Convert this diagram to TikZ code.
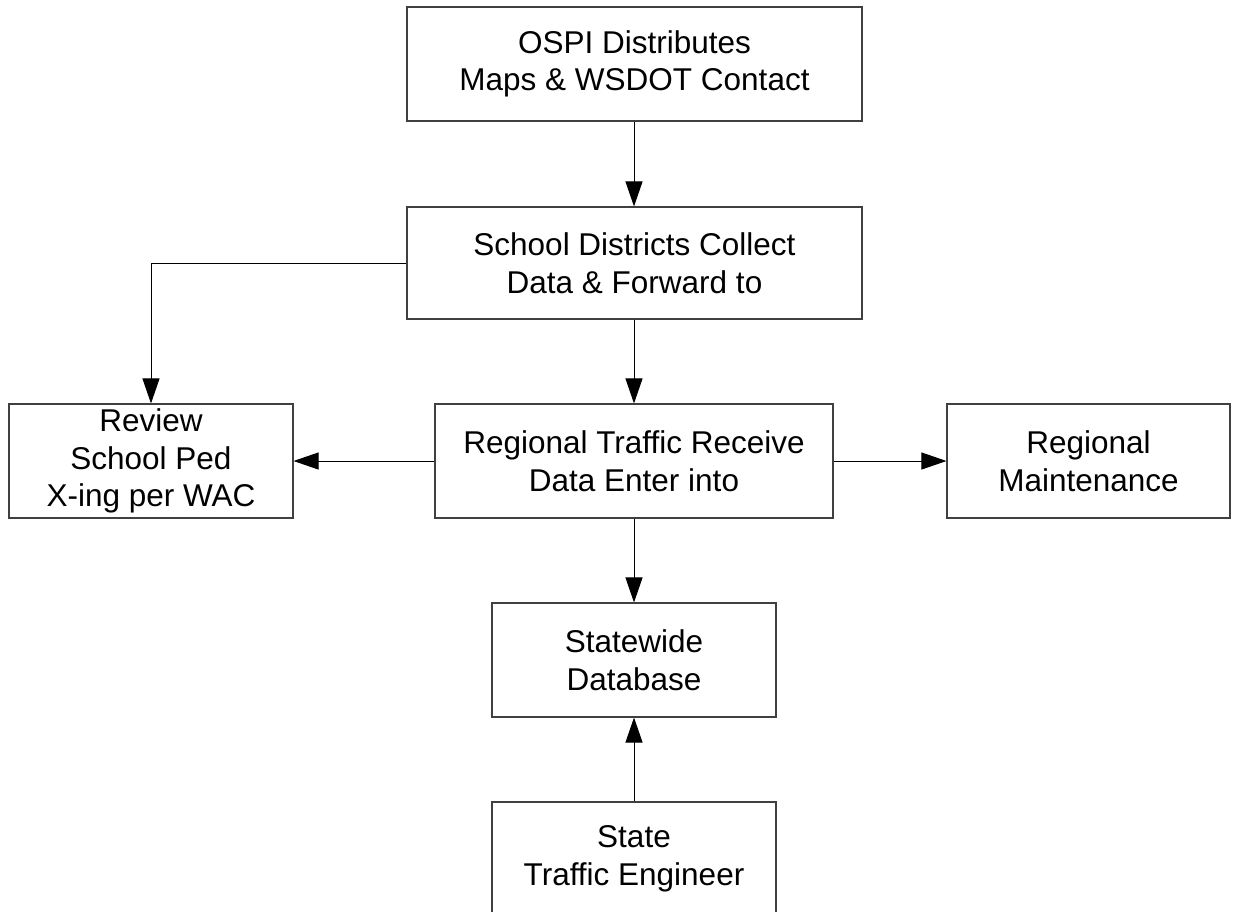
\documentclass[tikz,border=0pt]{standalone}
\usepackage{fontspec}
\setmainfont{Liberation Sans}
\usetikzlibrary{arrows.meta}
\definecolor{boxgray}{RGB}{64,64,64}
\begin{document}
\begin{tikzpicture}[x=1pt,y=1pt,
  box/.style={draw=boxgray, line width=1.1pt, inner sep=0pt, align=center,
    font=\fontsize{31.5}{37.5}\selectfont},
  arr/.style={draw=black, line width=1pt, -{Triangle[length=25pt,width=17pt]}}]
\useasboundingbox (0,0) rectangle (1234,-911);
\clip (0,0) rectangle (1234,-911);
\fill[white] (0,0) rectangle (1234,-911);
\node[box, minimum width=455pt, minimum height=114pt] (ospi) at (634.5,-64) {OSPI Distributes\\Maps \& WSDOT Contact};
\node[box, minimum width=455pt, minimum height=112pt] (school) at (634.5,-263) {School Districts Collect\\Data \& Forward to};
\node[box, minimum width=284pt, minimum height=114pt] (review) at (151,-461) {Review\\School Ped\\X-ing per WAC};
\node[box, minimum width=398pt, minimum height=114pt] (traffic) at (634,-461) {Regional Traffic Receive\\Data Enter into};
\node[box, minimum width=283pt, minimum height=114pt] (maint) at (1088.5,-461) {Regional\\Maintenance};
\node[box, minimum width=284pt, minimum height=114pt] (db) at (634,-660) {Statewide\\Database};
\node[box, minimum width=284pt, minimum height=114pt] (ste) at (634,-859) {State\\Traffic Engineer};
\draw[arr] (ospi.south -| traffic) -- (school.north -| traffic);
\draw[arr] (school.south -| traffic) -- (traffic.north);
\draw[arr] (school.west |- 0,-263) -| (review.north);
\draw[arr] (traffic.west) -- (review.east);
\draw[arr] (traffic.east) -- (maint.west);
\draw[arr] (traffic.south) -- (db.north);
\draw[arr] (ste.north) -- (db.south);
\end{tikzpicture}
\end{document}
